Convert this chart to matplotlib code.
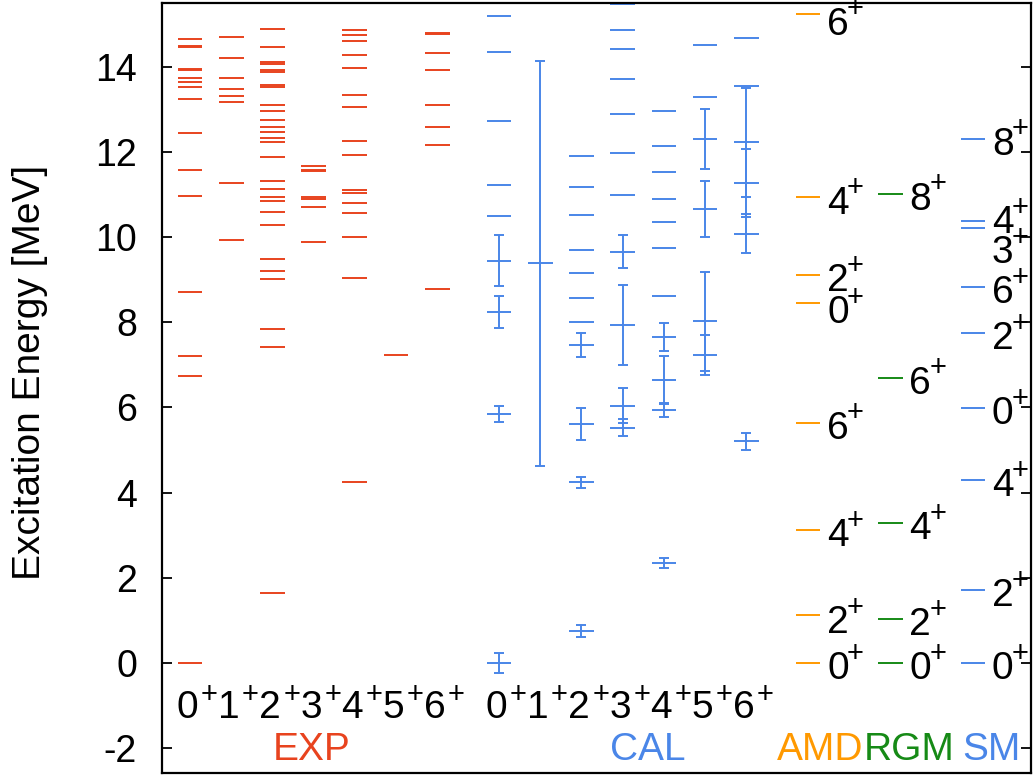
import matplotlib
matplotlib.use('Agg')
import matplotlib.pyplot as plt

plt.rcParams['font.family'] = ['Liberation Sans', 'DejaVu Sans']
plt.rcParams['axes.unicode_minus'] = False

# spins of the columns (all positive parity)
spins = ['0', '1', '2', '3', '4', '5', '6']

# measured levels [MeV], one list per spin
exp_levels = [
    [0.0, 6.73, 7.20, 8.70, 10.97, 11.57, 12.44, 13.23, 13.53, 13.65, 13.74,
     13.92, 13.95, 14.45, 14.49, 14.65],
    [9.94, 11.27, 13.18, 13.31, 13.48, 13.73, 14.20, 14.70],
    [1.65, 7.43, 7.84, 9.01, 9.20, 9.49, 10.28, 10.59, 10.85, 10.94, 11.12,
     11.32, 11.89, 12.22, 12.33, 12.47, 12.59, 12.75, 12.96, 13.10, 13.53,
     13.57, 13.88, 13.91, 14.06, 14.10, 14.45, 14.88],
    [9.88, 10.70, 10.90, 10.93, 11.54, 11.58, 11.66],
    [4.26, 9.04, 10.00, 10.56, 10.81, 11.03, 11.10, 11.93, 12.26, 13.05,
     13.34, 13.97, 14.27, 14.59, 14.74, 14.85],
    [7.23],
    [8.79, 12.15, 12.59, 13.11, 13.92, 14.31, 14.76, 14.79],
]

# calculated levels [MeV] and their widths (0 = no error bar)
cal_energy = [
    [0.0, 5.85, 8.24, 9.44, 10.50, 11.21, 12.73, 14.35, 15.19],
    [9.38],
    [0.75, 4.24, 5.61, 7.46, 8.00, 8.58, 9.15, 9.69, 10.51, 11.17, 11.91],
    [5.52, 6.04, 7.93, 9.66, 10.98, 11.97, 12.89, 13.70, 14.41, 14.86, 15.46],
    [2.34, 5.94, 6.64, 7.65, 8.61, 9.74, 10.36, 10.90, 11.53, 12.14, 12.96],
    [7.23, 8.02, 10.66, 12.30, 13.29, 14.51],
    [5.21, 10.08, 11.27, 12.22, 13.54, 14.67],
]
cal_error = [
    [0.24, 0.19, 0.37, 0.60, 0, 0, 0, 0, 0],
    [4.75],
    [0.14, 0.13, 0.38, 0.28, 0, 0, 0, 0, 0, 0, 0],
    [0.20, 0.41, 0.94, 0.39, 0, 0, 0, 0, 0, 0, 0],
    [0.12, 0.17, 0.56, 0.33, 0, 0, 0, 0, 0, 0, 0],
    [0.46, 1.17, 0.65, 0.70, 0, 0],
    [0.20, 0.45, 0.79, 1.28, 0, 0],
]

# other models
amd_energy = [15.23, 10.93, 9.11, 8.46, 5.64, 3.12, 1.12, 0.0]
amd_spin = ['6', '4', '2', '0', '6', '4', '2', '0']
rgm_energy = [11.02, 6.70, 3.29, 1.03, 0.0]
rgm_spin = ['8', '6', '4', '2', '0']
sm_energy = [12.31, 10.38, 10.22, 8.83, 7.75, 5.99, 4.30, 1.71, 0.0]
sm_spin = ['8', '4', '3', '6', '2', '0', '4', '2', '0']

c_exp = '#e8431e'
c_cal = '#4a86e8'
c_amd = '#ff9900'
c_rgm = '#168a16'

half = 0.3      # half length of a level line
lw = 1.4
fs = 28

fig = plt.figure(figsize=(10.34, 7.77), dpi=100)
ax = fig.add_axes([0.1567, 0.0055, 0.8404, 0.9910])


def spin_label(x, y, j, dx, dy):
    # digit with a raised "+" after it, x/y = left edge / baseline of the digit
    ax.text(x, y, j, fontsize=fs, ha='left', va='baseline')
    ax.text(x + dx, y + dy, '+', fontsize=21, ha='left', va='baseline')


exp_x = list(range(7))
cal_x = [7.5 + i for i in range(7)]

for x, levels in zip(exp_x, exp_levels):
    ax.hlines(levels, x - half, x + half, color=c_exp, lw=lw)

for x, en, er in zip(cal_x, cal_energy, cal_error):
    ax.hlines(en, x - half, x + half, color=c_cal, lw=lw)
    bars = [(e, d) for e, d in zip(en, er) if d > 0]
    if bars:
        ax.errorbar([x] * len(bars), [b[0] for b in bars], yerr=[b[1] for b in bars],
                    fmt='none', ecolor=c_cal, elinewidth=lw, capsize=3.7, capthick=lw)

# spin labels under the two main blocks
for xs in (exp_x, cal_x):
    for x, j in zip(xs, spins):
        spin_label(x - 0.33, -1.30, j, 0.59, 0.37)

# model columns with labels beside each level
models = [
    (15, amd_energy, amd_spin, c_amd, [-0.10, 0, 0, -0.10, 0, 0, -0.04, 0]),
    (17, rgm_energy, rgm_spin, c_rgm, [0, 0, 0, 0, 0]),
    (19, sm_energy, sm_spin, c_cal, [0, 0.09, -0.45, 0, 0, 0, 0, 0, 0]),
]
for x, en, sp, col, nudge in models:
    ax.hlines(en, x - half, x + half, color=col, lw=lw)
    for e, j, n in zip(en, sp, nudge):
        spin_label(x + 0.46, e - 0.38 + n, j, 0.485, 0.41)

# block names
ax.text(2.95, -2.28, 'EXP', color=c_exp, fontsize=fs, ha='center', va='baseline')
ax.text(11.12, -2.28, 'CAL', color=c_cal, fontsize=fs, ha='center', va='baseline')
ax.text(15.3, -2.28, 'AMD', color=c_amd, fontsize=fs, ha='center', va='baseline')
ax.text(17.46, -2.28, 'RGM', color=c_rgm, fontsize=fs, ha='center', va='baseline')
ax.text(19.45, -2.28, 'SM', color=c_cal, fontsize=fs, ha='center', va='baseline')

ax.set_xlim(-0.68, 20.41)
ax.set_ylim(-2.575, 15.50)
ax.set_yticks(range(-2, 15, 2))
ax.set_xticks([])
ax.tick_params(axis='y', direction='in', length=7, width=1.3, left=True, right=True,
               labelsize=27, pad=18)
for s in ax.spines.values():
    s.set_linewidth(1.6)

fig.text(30 / 1034, 1 - 372 / 777, 'Excitation Energy [MeV]', fontsize=fs,
         rotation=90, ha='center', va='center')

fig.savefig('out.png', dpi=100)
